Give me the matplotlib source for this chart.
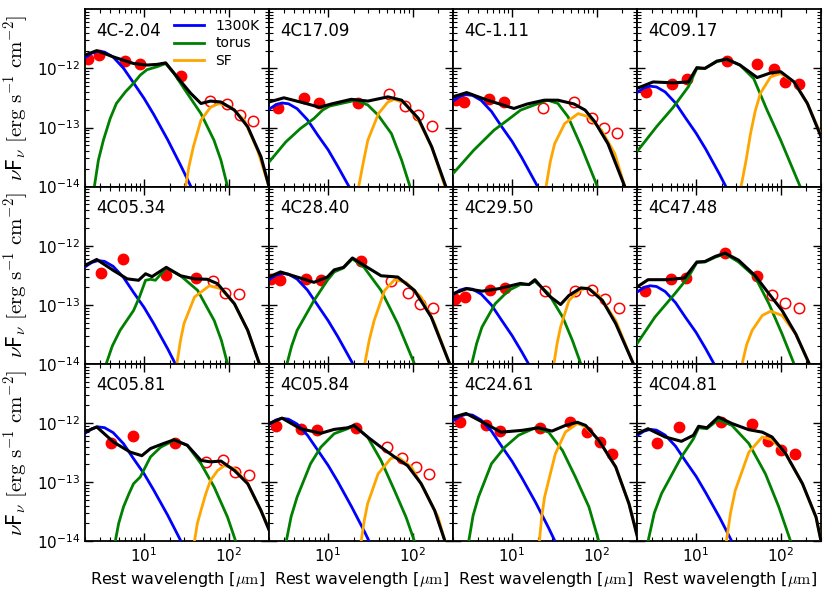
import matplotlib
matplotlib.use("Agg")
from matplotlib import pyplot as plt
from matplotlib.ticker import LogLocator, NullFormatter

plt.rcParams["mathtext.fontset"] = "cm"
plt.rcParams["axes.unicode_minus"] = False

# fluxes are in units of 1e-13 erg s^-1 cm^-2, wavelengths in micron
FLUX_UNIT = 1e-13

names = ["4C-2.04", "4C17.09", "4C-1.11", "4C09.17",
         "4C05.34", "4C28.40", "4C29.50", "4C47.48",
         "4C05.81", "4C05.84", "4C24.61", "4C04.81"]

# filled points
det_lam = [
    [2.19, 2.96, 6.0, 9.0, 27.0],
    [2.55, 5.2, 7.9, 22.6],
    [2.19, 2.68, 5.4, 8.1],
    [2.58, 5.2, 7.7, 23, 52.7, 83, 114, 165],
    [3.07, 5.7, 18.3, 41],
    [2.1, 2.73, 5.5, 8.2, 24.2],
    [2.1, 2.78, 5.5, 8.3],
    [2.51, 5.05, 7.5, 22.1, 52.7],
    [4.04, 7.4, 23.4],
    [2.45, 4.8, 7.3, 21.4],
    [2.4, 4.9, 7.2, 21.5, 49, 77, 109, 152],
    [3.4, 6.3, 19.8, 46, 71.6, 100, 147],
]
det_flux = [
    [14.2, 16.8, 13.3, 11.7, 7.4],
    [2.15, 3.18, 2.55, 2.55],
    [2.9, 2.7, 3.0, 2.7],
    [3.95, 5.4, 6.5, 13.3, 12.0, 9.6, 5.9, 5.4],
    [3.43, 5.85, 3.22, 2.8],
    [2.68, 2.66, 2.75, 2.66, 5.6],
    [1.26, 1.35, 1.8, 1.9],
    [1.71, 2.75, 2.85, 7.5, 3.1],
    [4.5, 6.0, 4.65],
    [9.0, 7.8, 7.5, 8.3],
    [10.5, 9.1, 7.3, 8.2, 10.5, 7.0, 4.7, 3.0],
    [4.5, 8.6, 10.5, 9.8, 4.9, 3.43, 2.95],
]

# open points
open_lam = [
    [60, 95, 136, 193],
    [52.7, 82, 117, 168],
    [23.4, 54, 87, 121, 175],
    [],
    [65, 91, 133],
    [55, 87, 121, 174],
    [24.8, 56, 89, 125, 182],
    [78, 112, 165],
    [54.6, 85, 118, 173],
    [49.7, 74, 110, 155],
    [],
    [],
]
open_flux = [
    [2.83, 2.48, 1.62, 1.30],
    [3.72, 2.30, 1.62, 1.07],
    [2.15, 2.7, 1.42, 0.98, 0.82],
    [],
    [2.52, 1.59, 1.52],
    [2.52, 1.59, 1.04, 0.9],
    [1.7, 1.7, 1.8, 1.23, 0.9],
    [1.48, 1.08, 0.89],
    [2.16, 2.33, 1.48, 1.3],
    [3.9, 2.55, 1.8, 1.35],
    [],
    [],
]

# 1300K component
blue_lam = [2.0, 2.4, 2.85, 3.4, 4.3, 5.7, 7.5, 10, 13, 19, 27, 40]
blue_flux = [
    [15.2, 18.1, 19.5, 18.9, 15.6, 10.1, 5.7, 3.1, 1.66, 0.62, 0.23, 0.072],
    [2.03, 2.42, 2.6, 2.52, 2.08, 1.35, 0.75, 0.42, 0.22, 0.083, 0.031, 0.0096],
    [2.81, 3.35, 3.6, 3.49, 2.88, 1.87, 1.04, 0.58, 0.31, 0.115, 0.043, 0.013],
    [3.9, 4.65, 5.0, 4.85, 4.0, 2.6, 1.45, 0.8, 0.43, 0.16, 0.06, 0.019],
    [4.37, 5.2, 5.6, 5.43, 4.48, 2.91, 1.62, 0.9, 0.48, 0.18, 0.067, 0.021],
    [2.65, 3.16, 3.4, 3.3, 2.72, 1.77, 0.99, 0.54, 0.29, 0.109, 0.041, 0.013],
    [1.48, 1.77, 1.9, 1.84, 1.52, 0.99, 0.55, 0.30, 0.16, 0.061, 0.023, 0.007],
    [1.64, 1.95, 2.1, 2.04, 1.68, 1.09, 0.61, 0.34, 0.18, 0.067, 0.025, 0.0078],
    [6.7, 8.0, 8.6, 8.34, 6.88, 4.47, 2.49, 1.38, 0.73, 0.275, 0.103, 0.032],
    [9.4, 11.2, 12.0, 11.6, 9.6, 6.2, 3.5, 1.92, 1.02, 0.38, 0.144, 0.044],
    [10.9, 13.0, 14.0, 13.6, 11.2, 7.3, 4.06, 2.24, 1.19, 0.45, 0.168, 0.052],
    [6.1, 7.25, 7.8, 7.57, 6.24, 4.06, 2.26, 1.25, 0.66, 0.25, 0.094, 0.029],
]

# torus component
torus_lam = [
    [2.58, 2.88, 3.3, 3.97, 4.7, 6.0, 7.5, 9.0, 10.8, 14.3, 18.0, 22.6, 32.3, 47, 67, 81, 97],
    [2.0, 3.16, 4.7, 6.8, 8.6, 10.4, 14.3, 21.5, 29.5, 39, 56, 74, 93],
    [2.0, 3.5, 6.1, 8.8, 12.6, 18.2, 26.3, 34.8, 45.8, 66, 102],
    [2.05, 3.4, 5.36, 8.1, 10.2, 12.7, 17.6, 23, 33, 48, 69, 100, 170],
    [3.56, 4.2, 5.2, 7.5, 8.8, 10.4, 11.9, 13.6, 18.3, 27, 43, 67.5, 82, 97],
    [3.26, 3.7, 4.3, 6.8, 9.8, 11.8, 15.2, 19.4, 26.6, 42.3, 66.6, 105],
    [3.33, 3.8, 4.4, 6.3, 9.1, 12.5, 15.8, 18.6, 27, 39.6, 51.6, 65],
    [2.0, 3.26, 5.6, 8.1, 10.2, 12.7, 16.9, 22, 31.7, 50, 72.6, 104, 144],
    [4.56, 5.0, 5.7, 6.6, 7.5, 9.0, 11.9, 15.7, 22.6, 32.4, 47, 67.5, 97, 121],
    [3.2, 3.65, 4.3, 6.2, 8.2, 11.8, 17, 20.2, 29.3, 42.2, 61, 83.5, 105],
    [3.07, 3.45, 4.0, 5.7, 8.2, 11.9, 18.8, 27, 39.4, 56, 81, 106],
    [2.7, 3.2, 3.9, 6.7, 9.3, 10.7, 13.4, 18.3, 26.5, 42, 66, 95, 131],
]
torus_flux = [
    [0.1, 0.28, 0.61, 1.42, 2.55, 4.0, 5.6, 7.7, 9.5, 10.7, 12.1, 8.2, 3.8, 1.72, 0.61, 0.28, 0.1],
    [0.26, 0.57, 0.96, 1.42, 1.97, 2.3, 2.55, 2.9, 2.4, 1.62, 0.79, 0.28, 0.1],
    [0.166, 0.41, 0.9, 1.33, 1.97, 2.4, 2.9, 2.55, 1.52, 0.47, 0.1],
    [0.41, 1.03, 2.2, 4.9, 10, 10, 13.0, 14.2, 11.4, 6.7, 1.97, 0.61, 0.1],
    [0.1, 0.2, 0.37, 0.8, 1.35, 2.6, 2.7, 2.6, 4.2, 3.1, 1.75, 0.54, 0.25, 0.1],
    [0.1, 0.2, 0.37, 1.18, 2.6, 3.6, 4.2, 6.0, 4.3, 1.75, 0.48, 0.1],
    [0.1, 0.22, 0.42, 1.04, 1.75, 2.2, 2.2, 2.5, 1.54, 0.62, 0.25, 0.1],
    [0.22, 0.62, 1.54, 2.95, 5.2, 5.3, 6.4, 7.3, 5.3, 2.95, 1.04, 0.32, 0.1],
    [0.1, 0.2, 0.38, 0.63, 0.94, 1.22, 2.67, 3.9, 5.1, 4.2, 2.05, 0.82, 0.255, 0.1],
    [0.1, 0.26, 0.56, 2.05, 3.9, 6.6, 8.0, 9.1, 5.8, 2.33, 0.72, 0.255, 0.1],
    [0.1, 0.27, 0.56, 2.05, 3.9, 6.2, 8.3, 7.0, 3.43, 1.22, 0.38, 0.1],
    [0.1, 0.3, 0.64, 2.67, 5.4, 8.3, 8.0, 11.4, 9.1, 4.5, 1.38, 0.38, 0.1],
]

# star formation component
sf_lam = [
    [31.0, 33.8, 38.2, 47, 61, 77, 107, 153, 220, 300],
    [23, 25.9, 29.5, 39.4, 51, 61, 81, 117, 168, 241],
    [25.2, 28.2, 31.8, 41.9, 60.4, 79.5, 114, 164, 215],
    [34, 39, 44, 50, 57.6, 76, 100, 144, 207, 300],
    [24.4, 26.8, 29.6, 39.4, 59, 81, 117, 168, 231],
    [27.1, 30.6, 35, 46.6, 61, 83.5, 126, 182, 274],
    [31.2, 34.0, 37.4, 47, 62, 78, 107, 168, 272],
    [35, 39.5, 46, 60.6, 76, 104, 151, 218],
    [39.4, 42.6, 47, 53.5, 61, 74, 89, 117, 168, 241, 297],
    [24.6, 26.7, 29.3, 39, 55, 66.6, 96.5, 139, 200, 241],
    [21, 22.4, 24.2, 32.4, 42.6, 59, 74, 106, 168, 241, 300],
    [22.8, 25.5, 29, 42, 60.6, 79, 115, 181, 262, 300],
]
sf_flux = [
    [0.1, 0.215, 0.47, 1.33, 2.2, 2.55, 2.2, 1.33, 0.41, 0.1],
    [0.1, 0.245, 0.61, 1.72, 2.7, 3.0, 2.55, 1.33, 0.47, 0.1],
    [0.1, 0.26, 0.53, 1.17, 1.72, 1.52, 0.9, 0.36, 0.1],
    [0.1, 0.28, 0.79, 1.9, 3.8, 7.2, 8.2, 5.9, 2.55, 0.75],
    [0.1, 0.24, 0.48, 1.35, 2.1, 1.87, 1.04, 0.37, 0.1],
    [0.1, 0.25, 0.54, 1.75, 2.66, 2.4, 1.35, 0.48, 0.1],
    [0.1, 0.22, 0.42, 1.18, 1.75, 1.93, 1.44, 0.54, 0.1],
    [0.1, 0.21, 0.37, 0.66, 0.78, 0.66, 0.32, 0.1],
    [0.1, 0.2, 0.33, 0.63, 1.07, 1.57, 1.9, 1.7, 0.94, 0.33, 0.17],
    [0.1, 0.22, 0.43, 1.38, 2.5, 2.67, 1.8, 0.72, 0.255, 0.1],
    [0.1, 0.26, 0.56, 3.0, 7.0, 9.8, 8.6, 5.1, 1.8, 0.43, 0.13],
    [0.1, 0.3, 0.72, 3.2, 5.8, 5.2, 3.0, 0.94, 0.255, 0.1],
]

# total model
tot_lam = [
    [2.0, 2.75, 4.3, 7.5, 10.8, 14.3, 18, 24.5, 35.5, 47, 61, 81, 117, 168, 241, 300],
    [2.0, 3.0, 5.2, 7.9, 10.9, 18.8, 29.5, 51, 74, 117, 168, 247],
    [2.0, 2.9, 5.1, 10.5, 15.1, 24, 34.8, 54, 73, 95, 136, 215],
    [2.0, 3.1, 5.36, 8.1, 10.2, 12.7, 17.6, 23, 33, 52.7, 76, 100, 144, 207, 300],
    [2.0, 2.75, 4.35, 6.3, 8.6, 10.4, 12.4, 18.3, 27, 39.4, 56, 74, 117, 168, 231],
    [2.0, 2.73, 4.3, 6.8, 9.8, 11.8, 15.2, 19.4, 26.6, 42.3, 66.6, 105, 166, 274],
    [2.0, 2.9, 4.4, 6.9, 12.5, 15.8, 18.6, 27, 37.4, 47, 65, 81, 117, 168, 272],
    [2.0, 2.7, 4.6, 7.3, 10.2, 12.7, 16.9, 22, 31.7, 50, 72.6, 104, 151, 218],
    [2.0, 2.75, 4.35, 6.9, 9.4, 11.9, 17, 22.6, 32.4, 47, 61, 81, 117, 168, 241, 297],
    [2.0, 2.85, 4.7, 8.2, 11.8, 17, 20.2, 29.3, 42.2, 61, 87, 126, 182, 241],
    [2.0, 2.86, 4.8, 7.4, 13, 20.6, 29.6, 42.6, 59, 74, 106, 168, 241, 300],
    [2.0, 2.7, 4.3, 6.7, 9.3, 10.7, 13.4, 18.3, 26.5, 42, 60.6, 79, 115, 181, 262, 300],
]
tot_flux = [
    [16.8, 20, 15.7, 12.1, 11.4, 11.7, 12.4, 7.2, 3.8, 2.55, 2.8, 2.7, 1.97, 1.03, 0.32, 0.1],
    [2.7, 3.18, 2.6, 2.2, 2.5, 3.0, 2.8, 3.3, 2.9, 1.42, 0.47, 0.1],
    [3.3, 3.9, 2.9, 2.1, 2.5, 2.9, 2.9, 2.5, 1.97, 1.25, 0.53, 0.1],
    [4.6, 5.9, 5.7, 5.9, 10.3, 10, 13.3, 14.4, 11.4, 7.0, 8.4, 8.8, 5.9, 2.55, 0.7],
    [4.65, 5.85, 3.8, 2.75, 2.6, 3.35, 3.0, 4.3, 3.1, 2.75, 2.7, 2.27, 1.04, 0.37, 0.1],
    [2.95, 3.6, 2.95, 2.4, 2.95, 3.9, 4.3, 6.2, 4.65, 3.1, 2.95, 1.75, 0.62, 0.1],
    [1.54, 1.87, 1.7, 1.87, 2.3, 2.2, 2.66, 1.44, 1.01, 1.44, 1.93, 1.87, 1.18, 0.48, 0.1],
    [2.0, 2.66, 2.66, 2.85, 5.3, 5.4, 6.6, 7.5, 5.7, 3.1, 1.54, 0.8, 0.32, 0.1],
    [7.0, 8.6, 4.75, 3.2, 2.8, 3.7, 4.5, 5.2, 4.2, 2.33, 2.2, 2.27, 1.57, 0.94, 0.33, 0.16],
    [9.8, 12.1, 8.0, 6.7, 7.8, 8.3, 9.1, 5.8, 3.9, 2.67, 1.9, 0.94, 0.33, 0.1],
    [12.5, 14.5, 9.8, 7.0, 7.5, 8.3, 7.3, 9.1, 10.3, 9.1, 5.1, 1.8, 0.43, 0.125],
    [6.6, 8.0, 5.8, 4.9, 6.2, 8.8, 8.3, 12.6, 9.8, 7.7, 7.0, 5.8, 3.0, 0.94, 0.255, 0.1],
]


def scaled(values):
    return [v * FLUX_UNIT for v in values]


fig, axes = plt.subplots(3, 4, figsize=(8.31, 6.0), dpi=100)
fig.subplots_adjust(left=0.1023, right=0.988, bottom=0.098, top=0.9845,
                    wspace=0, hspace=0)

for i, ax in enumerate(axes.flat):
    row, col = divmod(i, 4)
    # photometry first, model curves drawn over it
    ax.plot(det_lam[i], scaled(det_flux[i]), "o", color="red", ms=7.5,
            mec="red", zorder=2)
    ax.plot(open_lam[i], scaled(open_flux[i]), "o", mfc="none", mec="red",
            mew=1.1, ms=7.5, zorder=2)
    ax.plot(blue_lam, scaled(blue_flux[i]), color="blue", lw=2, label="1300K", zorder=3)
    ax.plot(torus_lam[i], scaled(torus_flux[i]), color="green", lw=2, label="torus", zorder=3)
    ax.plot(sf_lam[i], scaled(sf_flux[i]), color="orange", lw=2, label="SF", zorder=3)
    ax.plot(tot_lam[i], scaled(tot_flux[i]), color="black", lw=2.2, zorder=4)

    ax.set_xscale("log")
    ax.set_yscale("log")
    ax.set_xlim(2, 300)
    ax.set_ylim(1e-14, 1e-11)
    ax.set_yticks([1e-14, 1e-13, 1e-12])
    ax.set_xticks([10, 100])
    ax.yaxis.set_minor_locator(LogLocator(base=10, subs=range(2, 10), numticks=20))
    ax.xaxis.set_minor_locator(LogLocator(base=10, subs=range(2, 10), numticks=20))
    ax.yaxis.set_minor_formatter(NullFormatter())
    ax.xaxis.set_minor_formatter(NullFormatter())
    ax.tick_params(which="both", direction="in", top=True, right=True)
    ax.tick_params(which="major", length=6, width=1, labelsize=11)
    ax.tick_params(which="minor", length=3, width=0.8)
    for spine in ax.spines.values():
        spine.set_linewidth(1.3)

    ax.text(0.06, 0.93, names[i], transform=ax.transAxes, va="top",
            ha="left", fontsize=12)

    if col == 0:
        ax.set_ylabel(r"$\nu$F$_\nu$ $[\mathrm{erg\ s^{-1}\ cm^{-2}}]$", fontsize=15)
    else:
        ax.yaxis.set_major_formatter(NullFormatter())
    if row == 2:
        ax.set_xlabel(r"Rest wavelength [$\mu\mathrm{m}$]", fontsize=11.5)
    else:
        ax.xaxis.set_major_formatter(NullFormatter())

    if i == 0:
        ax.legend(loc="upper right", frameon=False, fontsize=10,
                  handlelength=2.2, labelspacing=0.25, borderaxespad=0.3)

fig.savefig("out.png", dpi=100)
